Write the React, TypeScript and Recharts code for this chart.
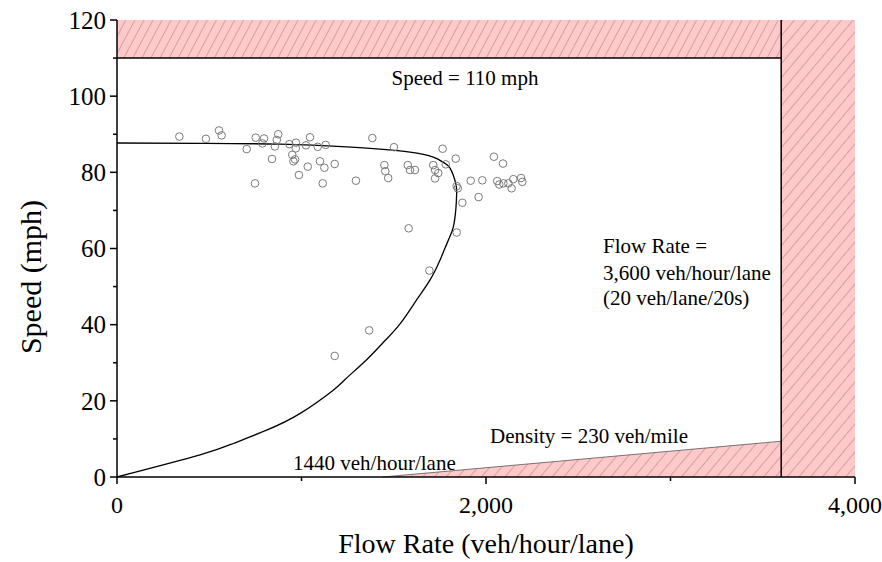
import {
  ComposedChart,
  XAxis,
  YAxis,
  Line,
  Scatter,
  Area,
  ReferenceArea,
  ReferenceLine,
  ReferenceDot,
} from "recharts";

const serif = "'Liberation Serif', 'Times New Roman', serif";

// observed detector samples
const pointFlow = [
  338, 482, 553, 567, 703, 752, 797, 788, 874, 866, 856, 840, 748, 934, 970, 969, 950, 965, 956,
  986, 1034, 1024, 1046, 1088, 1131, 1100, 1124, 1180, 1115, 1295, 1384, 1501, 1449, 1454, 1470,
  1576, 1588, 1615, 1714, 1724, 1741, 1724, 1765, 1782, 1836, 1841, 1847, 1872, 1917, 1980, 1960,
  2043, 2092, 2061, 2072, 2094, 2121, 2148, 2139, 2190, 2197, 1581, 1841, 1693, 1367, 1180,
];
const pointSpeed = [
  89.4, 88.8, 91.0, 89.7, 86.1, 89.1, 88.9, 87.6, 90.0, 88.5, 86.8, 83.5, 77.1, 87.4, 87.8, 86.3,
  84.6, 83.4, 82.9, 79.3, 81.5, 87.1, 89.2, 86.7, 87.2, 82.9, 81.2, 82.2, 77.1, 77.8, 89.0, 86.6,
  81.9, 80.3, 78.5, 81.9, 80.6, 80.6, 81.9, 80.6, 79.8, 78.4, 86.2, 82.1, 83.6, 76.4, 75.8, 72.0,
  77.8, 77.9, 73.5, 84.1, 82.3, 77.7, 76.8, 77.1, 77.1, 78.2, 75.8, 78.5, 77.5, 65.3, 64.2, 54.2,
  38.5, 31.8,
];

// fitted speed-flow curve (upper branch then congested branch)
const curveFlow = [
  0, 450, 883, 1245, 1425, 1588, 1714, 1769, 1805, 1836, 1841, 1837, 1823, 1796, 1751, 1696, 1624,
  1534, 1443, 1353, 1236, 1172, 993, 811, 630, 450, 0,
];
const curveSpeed = [
  87.7, 87.6, 87.4, 86.7, 86.1, 85.3, 84.0, 82.6, 81.1, 77.1, 74.5, 70.6, 65.7, 62.2, 57.0, 51.7,
  46.5, 40.2, 35.3, 30.8, 25.6, 22.8, 16.7, 12.3, 8.8, 5.8, 0,
];

// density limit line: starts at 1440 veh/hour/lane
const densityFlow = [1440, 3600];
const densitySpeed = [0, 9.39];

const xTicks = [0, 1000, 2000, 3000, 4000];
const yTicks = [0, 10, 20, 30, 40, 50, 60, 70, 80, 90, 100, 110, 120];

const points = pointFlow.map((x, i) => ({ x, y: pointSpeed[i] }));
const curve = curveFlow.map((x, i) => ({ x, y: curveSpeed[i] }));
const density = densityFlow.map((x, i) => ({ x, y: densitySpeed[i] }));

const XTick = ({ x, y, payload }: any) => {
  const major = payload.value % 2000 === 0;
  return (
    <g>
      <line x1={x} x2={x} y1={y} y2={y + (major ? 7 : 4)} stroke="#000" strokeWidth={1.5} />
      {major && (
        <text x={x} y={y + 28} dy="0.35em" textAnchor="middle" fontSize={24} fontFamily={serif} fill="#000">
          {payload.value.toLocaleString("en-US")}
        </text>
      )}
    </g>
  );
};

const YTick = ({ x, y, payload }: any) => {
  const major = payload.value % 20 === 0;
  return (
    <g>
      <line x1={x - (major ? 7 : 4)} x2={x} y1={y} y2={y} stroke="#000" strokeWidth={1.5} />
      {major && (
        <text x={x - 11} y={y} dy="0.35em" textAnchor="end" fontSize={25} fontFamily={serif} fill="#000">
          {payload.value}
        </text>
      )}
    </g>
  );
};

const Ring = (props: any) => (
  <circle cx={props.cx} cy={props.cy} r={3.8} fill="none" stroke="#7a7a7a" strokeWidth={1} />
);

const YTitle = () => (
  <text
    x={0}
    y={0}
    transform="translate(41, 277) rotate(-90)"
    textAnchor="middle"
    fontSize={30}
    fontFamily={serif}
    fill="#000"
  >
    Speed (mph)
  </text>
);

const note = (value: string, position: string) => ({
  value,
  position,
  offset: 0,
  fontSize: 21,
  fontFamily: serif,
  fill: "#000",
});

export default function App() {
  return (
    <div style={{ position: "absolute", left: 0, top: 0, background: "#fff" }}>
      <ComposedChart width={882} height={562} margin={{ top: 20, right: 27, left: 0, bottom: 0 }}>
        <defs>
          <pattern id="hatchSteep" patternUnits="userSpaceOnUse" width="8" height="8" patternTransform="rotate(28)">
            <rect width="8" height="8" fill="#ffc9c9" />
            <line x1="0" y1="0" x2="0" y2="8" stroke="#866464" strokeWidth="0.8" />
          </pattern>
          <pattern id="hatch" patternUnits="userSpaceOnUse" width="9" height="9" patternTransform="rotate(40)">
            <rect width="9" height="9" fill="#ffc9c9" />
            <line x1="0" y1="0" x2="0" y2="9" stroke="#866464" strokeWidth="0.8" />
          </pattern>
        </defs>
        <XAxis
          type="number"
          dataKey="x"
          domain={[0, 4000]}
          ticks={xTicks}
          interval={0}
          height={85}
          tick={<XTick />}
          tickLine={false}
          tickSize={0}
          tickMargin={0}
          axisLine={{ stroke: "#000", strokeWidth: 1.5 }}
          label={{
            value: "Flow Rate (veh/hour/lane)",
            position: "insideBottom",
            offset: 9,
            fontSize: 28,
            fontFamily: serif,
            fill: "#000",
          }}
        />
        <YAxis
          type="number"
          dataKey="y"
          domain={[0, 120]}
          ticks={yTicks}
          interval={0}
          width={117}
          tick={<YTick />}
          tickLine={false}
          tickSize={0}
          tickMargin={0}
          axisLine={{ stroke: "#000", strokeWidth: 1.5 }}
          label={{ value: "Speed (mph)", content: <YTitle /> }}
        />
        <ReferenceArea x1={0} x2={3600} y1={110} y2={120} fill="url(#hatchSteep)" fillOpacity={1} stroke="none" />
        <ReferenceArea x1={3600} x2={4000} y1={0} y2={120} fill="url(#hatch)" fillOpacity={1} stroke="none" />
        <Area
          data={density}
          dataKey="y"
          type="linear"
          fill="url(#hatch)"
          fillOpacity={1}
          stroke="#555"
          strokeWidth={0.8}
          isAnimationActive={false}
        />
        <ReferenceLine
          segment={[
            { x: 0, y: 110 },
            { x: 3600, y: 110 },
          ]}
          stroke="#000"
          strokeWidth={1.5}
        />
        <ReferenceLine x={3600} stroke="#000" strokeWidth={1.5} />
        <Line
          data={curve}
          dataKey="y"
          type="natural"
          stroke="#000"
          strokeWidth={1.3}
          dot={false}
          activeDot={false}
          isAnimationActive={false}
        />
        <Scatter data={points} dataKey="y" shape={<Ring />} isAnimationActive={false} />
        <ReferenceDot x={1886} y={105} r={0} fill="none" stroke="none" label={note("Speed = 110 mph", "center")} />
        <ReferenceDot x={2634} y={60.9} r={0} fill="none" stroke="none" label={note("Flow Rate =", "right")} />
        <ReferenceDot x={2634} y={53.8} r={0} fill="none" stroke="none" label={note("3,600 veh/hour/lane", "right")} />
        <ReferenceDot x={2634} y={47.0} r={0} fill="none" stroke="none" label={note("(20 veh/lane/20s)", "right")} />
        <ReferenceDot x={2022} y={11.0} r={0} fill="none" stroke="none" label={note("Density = 230 veh/mile", "right")} />
        <ReferenceDot x={954} y={3.7} r={0} fill="none" stroke="none" label={note("1440 veh/hour/lane", "right")} />
      </ComposedChart>
    </div>
  );
}
